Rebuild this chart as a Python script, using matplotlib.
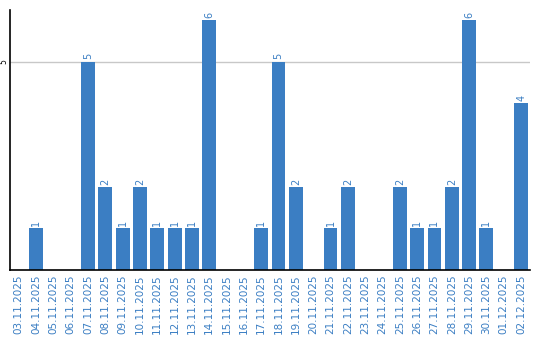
import numpy as np
import matplotlib.pyplot as plt

dates = ['03.11.2025', '04.11.2025', '05.11.2025', '06.11.2025', '07.11.2025',
         '08.11.2025', '09.11.2025', '10.11.2025', '11.11.2025', '12.11.2025',
         '13.11.2025', '14.11.2025', '15.11.2025', '16.11.2025', '17.11.2025',
         '18.11.2025', '19.11.2025', '20.11.2025', '21.11.2025', '22.11.2025',
         '23.11.2025', '24.11.2025', '25.11.2025', '26.11.2025', '27.11.2025',
         '28.11.2025', '29.11.2025', '30.11.2025', '01.12.2025', '02.12.2025']
counts = [0, 1, 0, 0, 5, 2, 1, 2, 1, 1, 1, 6, 0, 0, 1,
          5, 2, 0, 1, 2, 0, 0, 2, 1, 1, 2, 6, 1, 0, 4]

blue = '#3b7ec3'

fig = plt.figure(figsize=(5.4, 3.4), dpi=100)
ax = fig.add_axes([0.0185, 0.206, 0.9625, 0.765])

x = np.arange(len(dates))
ax.bar(x, counts, width=0.8, color=blue, zorder=2)

# value labels on top of non-zero bars
for xi, c in zip(x, counts):
    if c > 0:
        ax.text(xi, c + 0.05, str(c), rotation=90, ha='center', va='bottom',
                color=blue, fontsize=7)

ax.set_xlim(-0.5, len(dates) - 0.5)
ax.set_ylim(0, 6.24)
ax.set_yticks([5])
ax.set_yticklabels(['5'], rotation=90, va='center', fontsize=5.5)
ax.axhline(5, color='#c8c8c8', lw=1, zorder=1)

ax.set_xticks(x)
ax.set_xticklabels(dates, rotation=90, color=blue, fontsize=7.5)
ax.tick_params(axis='x', length=0, pad=3)
ax.tick_params(axis='y', length=0, pad=1)

ax.spines['top'].set_visible(False)
ax.spines['right'].set_visible(False)
ax.spines['left'].set_linewidth(1.2)
ax.spines['bottom'].set_linewidth(1.2)

fig.savefig('out.png', dpi=100)
